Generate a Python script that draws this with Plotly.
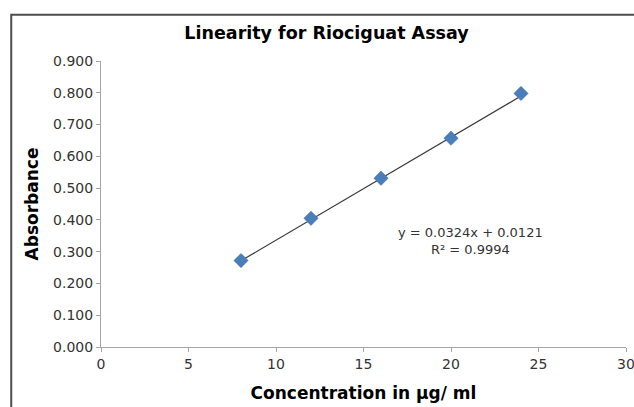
import numpy as np
import plotly.graph_objects as go

# Data
concentration = [8, 12, 16, 20, 24]
absorbance = [0.272, 0.405, 0.531, 0.657, 0.798]
slope = 0.0324
intercept = 0.0121
r_squared = 0.9994
x_ticks = [0, 5, 10, 15, 20, 25, 30]
y_ticks = [0.0, 0.1, 0.2, 0.3, 0.4, 0.5, 0.6, 0.7, 0.8, 0.9]

trend_x = [min(concentration), max(concentration)]
trend_y = [slope * v + intercept for v in trend_x]

fig = go.Figure()
fig.add_trace(go.Scatter(
    x=trend_x, y=trend_y, mode="lines",
    line=dict(color="#3a3a3a", width=1.2), showlegend=False, hoverinfo="skip"))
fig.add_trace(go.Scatter(
    x=concentration, y=absorbance, mode="markers",
    marker=dict(symbol="diamond", size=11, color="#4a7ebb",
                line=dict(color="#3d6da8", width=0.5)),
    showlegend=False))

tick_font = dict(family="DejaVu Sans, Open Sans, Arial", size=14, color="#333333")
title_font = dict(family="DejaVu Sans, Liberation Sans, Arial", size=17, color="#000000")

fig.update_layout(
    width=634, height=407,
    margin=dict(l=101, r=8, t=61, b=60),
    paper_bgcolor="white", plot_bgcolor="white",
    title=dict(text="<b>Linearity for Riociguat Assay</b>", x=0.515, xanchor="center",
               y=0.92, yanchor="middle",
               font=dict(family="DejaVu Sans, Liberation Sans, Arial", size=17.5, color="#000000")),
    xaxis=dict(range=[0, 30], tickvals=x_ticks, ticks="outside", ticklen=4,
               tickcolor="#a6a6a6", showline=True, linecolor="#a6a6a6", linewidth=1,
               showgrid=False, zeroline=False, tickfont=tick_font, automargin=False,
               ticklabeloverflow="allow",
               title=dict(text="<b>Concentration in µg/ ml</b>", font=title_font, standoff=16)),
    yaxis=dict(range=[0, 0.9], tickvals=y_ticks, tickformat=".3f", ticks="outside",
               ticklen=4, tickcolor="#a6a6a6", showline=True, linecolor="#a6a6a6",
               linewidth=1, showgrid=False, zeroline=False, tickfont=tick_font, automargin=False,
               title=dict(text="<b>Absorbance</b>", font=title_font, standoff=10)),
    shapes=[dict(type="rect", xref="paper", yref="paper",
                 x0=-0.171, x1=1.2, y0=-0.5, y1=1.162,
                 line=dict(color="#4d4d4d", width=2), fillcolor="rgba(0,0,0,0)", layer="below")],
    annotations=[dict(xref="x", yref="y", x=21.1, y=0.334,
                      text=f"y = {slope}x + {intercept}<br>R² = {r_squared}",
                      showarrow=False, align="center",
                      font=dict(family="DejaVu Sans, Open Sans, Arial", size=13, color="#333333"))],
)

fig.write_html("out.html")
